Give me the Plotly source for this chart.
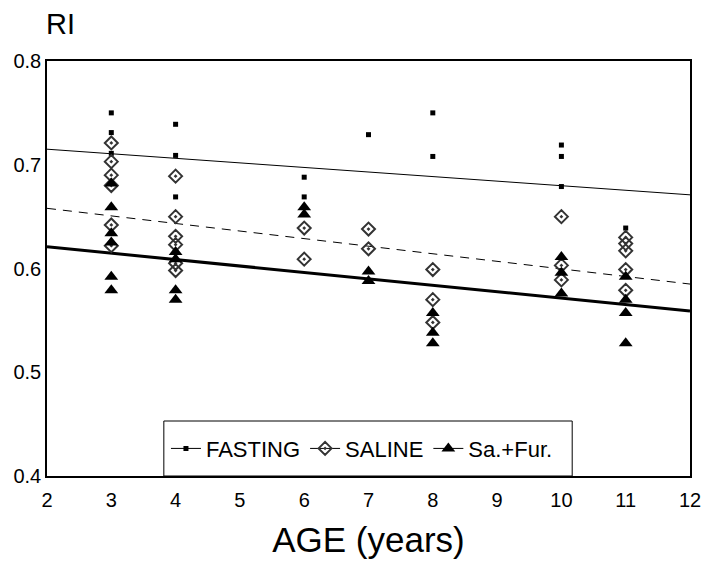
import plotly.graph_objects as go

# ---- data ----
fasting_x = [3, 3, 3, 4, 4, 4, 6, 6, 7, 8, 8, 10, 10, 10, 11]
fasting_y = [0.750, 0.731, 0.711, 0.739, 0.709, 0.669, 0.688, 0.669, 0.729, 0.750, 0.708, 0.719, 0.708, 0.679, 0.639]

saline_x = [3, 3, 3, 3, 3, 3, 4, 4, 4, 4, 4, 4, 6, 6, 7, 7, 8, 8, 8, 10, 10, 10, 11, 11, 11, 11, 11]
saline_y = [0.721, 0.703, 0.690, 0.680, 0.642, 0.622, 0.689, 0.650, 0.631, 0.623, 0.605, 0.598,
            0.639, 0.609, 0.638, 0.619, 0.599, 0.570, 0.548, 0.650, 0.603, 0.589, 0.630, 0.624, 0.617, 0.599, 0.579]

safur_x = [3, 3, 3, 3, 3, 3, 4, 4, 4, 4, 6, 6, 7, 7, 8, 8, 8, 10, 10, 10, 11, 11, 11, 11]
safur_y = [0.682, 0.659, 0.634, 0.625, 0.592, 0.579, 0.616, 0.609, 0.579, 0.570, 0.659, 0.652,
           0.597, 0.588, 0.557, 0.538, 0.528, 0.611, 0.596, 0.576, 0.592, 0.570, 0.557, 0.528]

trend_x = [2, 12]
fasting_trend = [0.715, 0.671]
saline_trend = [0.658, 0.585]
safur_trend = [0.621, 0.559]

x_ticks = [2, 3, 4, 5, 6, 7, 8, 9, 10, 11, 12]
y_ticks = [0.4, 0.5, 0.6, 0.7, 0.8]

FONT = "Liberation Sans, Arial, Helvetica, sans-serif"

fig = go.Figure()

# trend lines
fig.add_trace(go.Scatter(x=trend_x, y=fasting_trend, mode="lines",
                         line=dict(color="black", width=1), showlegend=False))
fig.add_trace(go.Scatter(x=trend_x, y=saline_trend, mode="lines",
                         line=dict(color="black", width=1, dash="9px,7px"), showlegend=False))
fig.add_trace(go.Scatter(x=trend_x, y=safur_trend, mode="lines",
                         line=dict(color="black", width=3), showlegend=False))

# points
fig.add_trace(go.Scatter(x=fasting_x, y=fasting_y, mode="markers",
                         marker=dict(symbol="square", size=5, color="black"), showlegend=False))
fig.add_trace(go.Scatter(x=saline_x, y=saline_y, mode="markers",
                         marker=dict(symbol="diamond-open-dot", size=10, color="#333",
                                     line=dict(width=2, color="#222")), showlegend=False))
fig.add_trace(go.Scatter(x=safur_x, y=safur_y, mode="markers",
                         marker=dict(symbol="triangle-up", size=12, color="black"), showlegend=False))

# legend entries
fig.add_trace(go.Scatter(x=[None], y=[None], mode="lines+markers", name="FASTING",
                         line=dict(color="black", width=1),
                         marker=dict(symbol="square", size=5, color="black")))
fig.add_trace(go.Scatter(x=[None], y=[None], mode="lines+markers", name="SALINE",
                         line=dict(color="black", width=1),
                         marker=dict(symbol="diamond-open-dot", size=10, color="#333",
                                     line=dict(width=2, color="#222"))))
fig.add_trace(go.Scatter(x=[None], y=[None], mode="lines+markers", name="Sa.+Fur.",
                         line=dict(color="black", width=1),
                         marker=dict(symbol="triangle-up", size=12, color="black")))

fig.update_layout(
    width=698, height=557,
    margin=dict(l=39, r=5, t=53, b=89),
    paper_bgcolor="white", plot_bgcolor="white",
    font=dict(family=FONT, color="black", size=20),
    showlegend=True,
    legend=dict(orientation="h", x=0.185, y=0.066, xanchor="left", yanchor="middle",
                borderwidth=0, bgcolor="rgba(0,0,0,0)",
                font=dict(size=22, family=FONT), itemwidth=30,
                traceorder="normal"),
    xaxis=dict(range=[2, 12], tickvals=x_ticks, ticktext=[str(v) for v in x_ticks],
               showgrid=False, zeroline=False, showline=True, linecolor="black",
               linewidth=1.5, mirror=True, ticks="", tickfont=dict(size=20),
               ticklabelstandoff=5, ticklabeloverflow="allow",
               title=dict(text="AGE (years)", font=dict(size=35), standoff=18)),
    yaxis=dict(range=[0.4, 0.8], tickvals=y_ticks, ticktext=[f"{v:.1f}" for v in y_ticks],
               showgrid=False, zeroline=False, showline=True, linecolor="black",
               linewidth=1.5, mirror=True, ticks="", tickfont=dict(size=20)),
    shapes=[dict(type="rect", xref="paper", yref="paper", x0=0.1817, x1=0.8168, y0=0, y1=0.1325,
                 line=dict(color="black", width=1), fillcolor="rgba(0,0,0,0)", layer="above")],
    annotations=[dict(text="RI", xref="paper", yref="paper", x=-0.004, y=1.0,
                      xanchor="left", yanchor="bottom", yshift=19, showarrow=False,
                      font=dict(size=29, family=FONT))],
)

fig.write_html("out.html", config={"displayModeBar": False},
               post_script="document.querySelectorAll('svg.main-svg').forEach(function(s){s.style.overflow='visible';});")
